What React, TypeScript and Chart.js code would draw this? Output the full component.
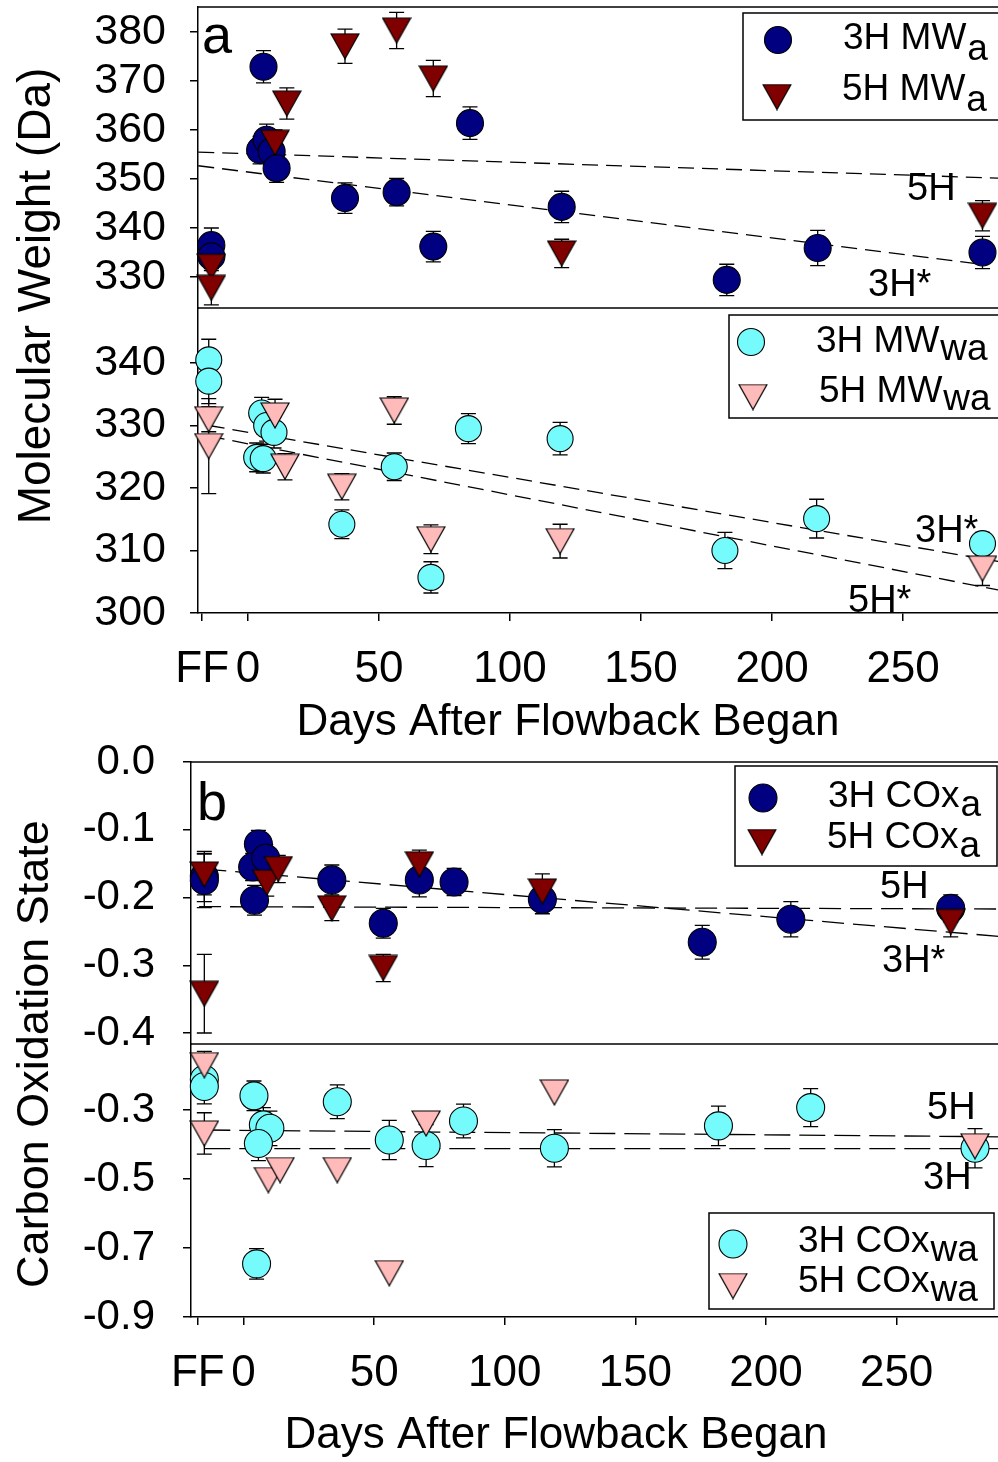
import React, { useEffect, useRef } from 'react';
import { Chart, registerables } from 'chart.js';

Chart.register(...registerables);

const FONT = "'Liberation Sans', Arial, Helvetica, sans-serif";

// ---------------- shared x axis ----------------
const X_TICK_VALUES = [-17.5, 0, 50, 100, 150, 200, 250];
const X_TICK_LABELS = ['FF', '0', '50', '100', '150', '200', '250'];

// ---------------- figure a, upper panel (MWa) ----------------
const MWA_TICKS = [330, 340, 350, 360, 370, 380];
const MWA_TICK_LABELS = ['330', '340', '350', '360', '370', '380'];
const MWA_3H_DAYS = [-14, -14, 4.6, 7.1, 9.0, 10.9, 5.9, 37.0, 56.7, 70.7, 84.7, 119.7, 182.7, 217.4, 280.3];
const MWA_3H_VALUES = [336.5, 334.2, 355.9, 358.0, 355.6, 352.2, 372.9, 346.1, 347.3, 336.2, 361.4, 344.3, 329.4, 335.9, 335.0];
const MWA_3H_ERRORS = [3.5, 2.5, 2.8, 3.2, 2.8, 2.9, 3.3, 3.1, 2.8, 3.1, 3.3, 3.2, 3.2, 3.6, 3.3];
const MWA_5H_DAYS = [-14, -14, 10.3, 14.8, 37.0, 56.7, 70.7, 119.7, 280.3];
const MWA_5H_VALUES = [332.1, 327.8, 357.4, 365.4, 377.1, 380.3, 370.5, 334.8, 342.5];
const MWA_5H_ERRORS = [2.0, 3.5, 2.6, 3.2, 3.5, 3.7, 3.7, 2.9, 3.1];
const MWA_5H_FIT_X = [-19, 291];
const MWA_5H_FIT_Y = [355.5, 350.1];
const MWA_3H_FIT_X = [-19, 280];
const MWA_3H_FIT_Y = [352.7, 332.6];

// ---------------- figure a, lower panel (MWwa) ----------------
const MWWA_TICKS = [300, 310, 320, 330, 340];
const MWWA_TICK_LABELS = ['300', '310', '320', '330', '340'];
const MWWA_3H_DAYS = [-15, -15, 5.2, 7.1, 9.9, 3.3, 5.8, 35.8, 55.8, 69.8, 84.1, 119.1, 182.0, 217.0, 280.3];
const MWWA_3H_VALUES = [340.5, 337.1, 332.0, 330.0, 328.9, 324.9, 324.7, 314.2, 323.4, 305.7, 329.5, 327.9, 310.0, 315.1, 311.1];
const MWWA_3H_ERRORS = [3.3, 3.6, 2.5, 2.5, 2.5, 2.3, 2.3, 2.3, 2.2, 2.5, 2.4, 2.6, 2.9, 3.1, 1.8];
const MWWA_5H_DAYS = [-15, -15, 10.3, 14.1, 35.8, 55.8, 69.8, 119.1, 280.3];
const MWWA_5H_VALUES = [331.0, 326.7, 331.6, 323.4, 320.2, 332.4, 311.8, 311.5, 307.1];
const MWWA_5H_ERRORS = [2.0, 7.6, 2.6, 2.1, 2.1, 2.2, 2.3, 2.7, 2.7];
const MWWA_3H_FIT_X = [-15, 291];
const MWWA_3H_FIT_Y = [330.0, 307.9];
const MWWA_5H_FIT_X = [-15, 291];
const MWWA_5H_FIT_Y = [328.3, 303.3];

// ---------------- figure b, upper panel (COxa) ----------------
const COXA_TICKS = [0, -0.1, -0.2, -0.3, -0.4];
const COXA_TICK_LABELS = ['0.0', '-0.1', '-0.2', '-0.3', '-0.4'];
const COXA_3H_DAYS = [-15, -15, 5.7, 3.5, 8.5, 4.2, 33.8, 53.5, 67.3, 80.6, 114.4, 175.6, 209.5, 270.7];
const COXA_3H_VALUES = [-0.169, -0.175, -0.121, -0.155, -0.142, -0.204, -0.174, -0.238, -0.174, -0.177, -0.203, -0.266, -0.232, -0.216];
const COXA_3H_ERRORS = [0.037, 0.04, 0.02, 0.02, 0.02, 0.022, 0.022, 0.022, 0.025, 0.02, 0.021, 0.025, 0.026, 0.02];
const COXA_5H_DAYS = [-15, -15, 8.9, 13.3, 33.8, 53.5, 67.3, 114.4, 270.7];
const COXA_5H_VALUES = [-0.166, -0.342, -0.178, -0.158, -0.216, -0.304, -0.151, -0.191, -0.236];
const COXA_5H_ERRORS = [0.03, 0.058, 0.02, 0.02, 0.018, 0.02, 0.021, 0.026, 0.022];
const COXA_3H_FIT_X = [-15, 294];
const COXA_3H_FIT_Y = [-0.158, -0.259];
const COXA_5H_FIT_X = [-17, 294];
const COXA_5H_FIT_Y = [-0.2135, -0.217];

// ---------------- figure b, lower panel (COxwa) ----------------
const COXWA_TICKS = [-0.3, -0.5, -0.7, -0.9];
const COXWA_TICK_LABELS = ['-0.3', '-0.5', '-0.7', '-0.9'];
const COXWA_3H_DAYS = [-15, -15, 4.0, 7.6, 10.1, 5.7, 5.0, 35.9, 55.8, 69.9, 84.2, 119.0, 181.8, 217.1, 280.0];
const COXWA_3H_VALUES = [-0.211, -0.232, -0.259, -0.343, -0.353, -0.397, -0.746, -0.276, -0.387, -0.403, -0.332, -0.411, -0.346, -0.293, -0.411];
const COXWA_3H_ERRORS = [0.05, 0.05, 0.043, 0.05, 0.05, 0.05, 0.044, 0.049, 0.057, 0.061, 0.049, 0.054, 0.057, 0.055, 0.057];
const COXWA_5H_DAYS = [-15, -15, 9.5, 14.0, 35.9, 55.8, 69.9, 119.0, 280.0];
const COXWA_5H_VALUES = [-0.170, -0.368, -0.503, -0.474, -0.474, -0.773, -0.339, -0.249, -0.405];
const COXWA_5H_ERRORS = [0.04, 0.06, 0, 0, 0, 0, 0, 0, 0];
const COXWA_5H_FIT_X = [-15, 294];
const COXWA_5H_FIT_Y = [-0.358, -0.378];
const COXWA_3H_FIT_X = [-15, 294];
const COXWA_3H_FIT_Y = [-0.412, -0.412];

// ---------------- styles / layout ----------------
const NAVY = '#000080';
const MAROON = '#800000';
const CYAN = '#75FBFB';
const PINK = '#FFBABA';
const TRI_W = 28;
const TRI_H = 25;
const CANVAS_W = 1010;
const A_TOP = 0;
const A_H = 750;
const B_TOP = 725;
const B_H = 737;

const triCache: Record<string, HTMLCanvasElement> = {};
function triangle(fill: string): HTMLCanvasElement {
  if (triCache[fill]) return triCache[fill];
  const c = document.createElement('canvas');
  c.width = TRI_W + 2;
  c.height = TRI_H + 2;
  const g = c.getContext('2d')!;
  g.beginPath();
  g.moveTo(1, 1);
  g.lineTo(TRI_W + 1, 1);
  g.lineTo(TRI_W / 2 + 1, TRI_H + 1);
  g.closePath();
  g.fillStyle = fill;
  g.fill();
  g.strokeStyle = '#000';
  g.lineWidth = 1.2;
  g.stroke();
  triCache[fill] = c;
  return c;
}

function pts(xs: number[], ys: number[]) {
  return xs.map((x, i) => ({ x, y: ys[i] }));
}

function markerDataset(label: string, xs: number[], ys: number[], errs: number[], kind: string, color: string, yAxisID: string, order: number, r: number) {
  return {
    type: 'scatter',
    label,
    data: pts(xs, ys),
    errorBars: errs,
    pointStyle: kind === 'circle' ? 'circle' : triangle(color),
    pointRadius: r,
    backgroundColor: color,
    borderColor: '#000',
    borderWidth: 1.1,
    xAxisID: 'x',
    yAxisID,
    order,
    clip: false,
  };
}

function fitDataset(xs: number[], ys: number[], yAxisID: string, dash: number[]) {
  return {
    type: 'line',
    label: 'fit',
    data: pts(xs, ys),
    borderColor: '#000',
    borderWidth: 1.3,
    borderDash: dash,
    pointRadius: 0,
    fill: false,
    tension: 0,
    xAxisID: 'x',
    yAxisID,
    order: 5,
  };
}

function xScale(min: number, max: number, height: number) {
  return {
    type: 'linear',
    position: 'bottom',
    min,
    max,
    bounds: 'data',
    afterBuildTicks: (s: any) => {
      s.ticks = X_TICK_VALUES.map((v) => ({ value: v }));
    },
    afterFit: (s: any) => {
      s.height = height;
      s.paddingLeft = 0;
      s.paddingRight = 0;
    },
    ticks: {
      callback: (_v: any, i: number) => X_TICK_LABELS[i],
      font: { family: FONT, size: 44 },
      color: '#000',
      padding: 22,
      autoSkip: false,
      maxRotation: 0,
      minRotation: 0,
    },
    grid: { drawOnChartArea: false, drawTicks: true, tickLength: 8, color: '#000', lineWidth: 1.5 },
    border: { display: true, color: '#000', width: 1.5 },
  };
}

function yScale(min: number, max: number, ticks: number[], labels: string[], weight: number, width: number, pad: number, size: number) {
  return {
    type: 'linear',
    position: 'left',
    stack: 'panels',
    stackWeight: weight,
    min,
    max,
    bounds: 'data',
    afterBuildTicks: (s: any) => {
      s.ticks = ticks.map((v) => ({ value: v }));
    },
    afterFit: (s: any) => {
      s.width = width;
      s.paddingTop = 0;
      s.paddingBottom = 0;
    },
    ticks: {
      callback: (_v: any, i: number) => labels[i],
      font: { family: FONT, size },
      color: '#000',
      padding: pad,
      autoSkip: false,
    },
    grid: { drawOnChartArea: false, drawTicks: true, tickLength: 8, color: '#000', lineWidth: 1.5 },
    border: { display: true, color: '#000', width: 1.5 },
  };
}

const errorBarPlugin = {
  id: 'errorBars',
  beforeDatasetsDraw(chart: any) {
    const ctx = chart.ctx;
    ctx.save();
    ctx.strokeStyle = '#000';
    ctx.lineWidth = 1.3;
    chart.data.datasets.forEach((ds: any, i: number) => {
      const errs = ds.errorBars;
      if (!errs) return;
      const meta = chart.getDatasetMeta(i);
      const ys = chart.scales[meta.yAxisID];
      ds.data.forEach((p: any, j: number) => {
        const e = errs[j];
        if (!e) return;
        const x = meta.data[j].x;
        const y1 = ys.getPixelForValue(p.y + e);
        const y2 = ys.getPixelForValue(p.y - e);
        ctx.beginPath();
        ctx.moveTo(x, y1);
        ctx.lineTo(x, y2);
        ctx.moveTo(x - 7.5, y1);
        ctx.lineTo(x + 7.5, y1);
        ctx.moveTo(x - 7.5, y2);
        ctx.lineTo(x + 7.5, y2);
        ctx.stroke();
      });
    });
    ctx.restore();
  },
};

type TextSpec = { text: string; x: number; y: number; size: number; align?: string; rotate?: boolean };
type LegendItem = { kind: string; color: string; r: number; mx: number; my: number; main: string; sub: string; tx: number; ty: number };
type LegendSpec = { x: number; y: number; w: number; h: number; subDy: number; size: number; items: LegendItem[] };

function drawMarker(ctx: CanvasRenderingContext2D, kind: string, color: string, x: number, y: number, r: number) {
  if (kind === 'circle') {
    ctx.beginPath();
    ctx.arc(x, y, r, 0, Math.PI * 2);
    ctx.fillStyle = color;
    ctx.fill();
    ctx.strokeStyle = '#000';
    ctx.lineWidth = 1.1;
    ctx.stroke();
  } else {
    const img = triangle(color);
    ctx.drawImage(img, x - img.width / 2, y - img.height / 2);
  }
}

// texts and legends are given in page coordinates; dy converts them to the canvas
function makeDecor(texts: TextSpec[], legends: LegendSpec[], dy: number) {
  return {
    id: 'decor',
    beforeDatasetsDraw(chart: any) {
      const { ctx, chartArea } = chart;
      ctx.save();
      ctx.strokeStyle = '#000';
      ctx.lineWidth = 1.5;
      Object.values(chart.scales).forEach((s: any) => {
        if (s.axis === 'y') {
          ctx.beginPath();
          ctx.moveTo(chartArea.left, s.top);
          ctx.lineTo(chartArea.right, s.top);
          ctx.stroke();
        }
      });
      ctx.restore();
    },
    afterDraw(chart: any) {
      const ctx: CanvasRenderingContext2D = chart.ctx;
      ctx.save();
      ctx.translate(0, -dy);
      for (const L of legends) {
        ctx.fillStyle = '#fff';
        ctx.fillRect(L.x, L.y, L.w, L.h);
        ctx.strokeStyle = '#000';
        ctx.lineWidth = 1.5;
        ctx.strokeRect(L.x, L.y, L.w, L.h);
        for (const it of L.items) {
          drawMarker(ctx, it.kind, it.color, it.mx, it.my, it.r);
          ctx.font = `${L.size}px ${FONT}`;
          ctx.fillStyle = '#000';
          ctx.textAlign = 'left';
          ctx.textBaseline = 'alphabetic';
          ctx.fillText(it.main, it.tx, it.ty);
          const w = ctx.measureText(it.main).width;
          ctx.fillText(it.sub, it.tx + w + 1, it.ty + L.subDy);
        }
      }
      for (const t of texts) {
        ctx.save();
        ctx.font = `${t.size}px ${FONT}`;
        ctx.fillStyle = '#000';
        ctx.textAlign = (t.align || 'left') as CanvasTextAlign;
        ctx.textBaseline = 'alphabetic';
        if (t.rotate) {
          ctx.translate(t.x, t.y);
          ctx.rotate(-Math.PI / 2);
          ctx.fillText(t.text, 0, 0);
        } else {
          ctx.fillText(t.text, t.x, t.y);
        }
        ctx.restore();
      }
      ctx.restore();
    },
  };
}

function baseOptions(padTop: number, scales: any) {
  return {
    responsive: false,
    animation: false,
    events: [],
    layout: { autoPadding: false, padding: { left: 0, top: padTop, right: 0, bottom: 0 } },
    plugins: { legend: { display: false }, tooltip: { enabled: false }, title: { display: false } },
    scales,
  };
}

function configA(): any {
  const dashA = [16, 8];
  return {
    type: 'scatter',
    data: {
      datasets: [
        markerDataset('5H MWa', MWA_5H_DAYS, MWA_5H_VALUES, MWA_5H_ERRORS, 'triangle', MAROON, 'yTop', 1, 14),
        markerDataset('3H MWa', MWA_3H_DAYS, MWA_3H_VALUES, MWA_3H_ERRORS, 'circle', NAVY, 'yTop', 2, 13.5),
        fitDataset(MWA_5H_FIT_X, MWA_5H_FIT_Y, 'yTop', dashA),
        fitDataset(MWA_3H_FIT_X, MWA_3H_FIT_Y, 'yTop', dashA),
        markerDataset('5H MWwa', MWWA_5H_DAYS, MWWA_5H_VALUES, MWWA_5H_ERRORS, 'triangle', PINK, 'yBot', 1, 14),
        markerDataset('3H MWwa', MWWA_3H_DAYS, MWWA_3H_VALUES, MWWA_3H_ERRORS, 'circle', CYAN, 'yBot', 2, 13),
        fitDataset(MWWA_3H_FIT_X, MWWA_3H_FIT_Y, 'yBot', dashA),
        fitDataset(MWWA_5H_FIT_X, MWWA_5H_FIT_Y, 'yBot', dashA),
      ],
    },
    options: baseOptions(7 - A_TOP, {
      x: xScale(-19.1, 290.8, A_TOP + A_H - 613),
      yBot: yScale(300, 348.8, MWWA_TICKS, MWWA_TICK_LABELS, 305, 198, 24, 43),
      yTop: yScale(323.67, 385.1, MWA_TICKS, MWA_TICK_LABELS, 301, 198, 24, 43),
    }),
    plugins: [
      errorBarPlugin,
      makeDecor(
        [
          { text: 'a', x: 202, y: 53, size: 54 },
          { text: '5H', x: 907, y: 200, size: 38 },
          { text: '3H*', x: 868, y: 296, size: 38 },
          { text: '3H*', x: 915, y: 542, size: 38 },
          { text: '5H*', x: 848, y: 612, size: 38 },
          { text: 'Days After Flowback Began', x: 568, y: 735, size: 44, align: 'center' },
          { text: 'Molecular Weight (Da)', x: 50, y: 296, size: 46, align: 'center', rotate: true },
        ],
        [
          {
            x: 743, y: 13, w: 256, h: 107, subDy: 11, size: 37,
            items: [
              { kind: 'circle', color: NAVY, r: 13.5, mx: 778, my: 40, main: '3H MW', sub: 'a', tx: 843, ty: 49 },
              { kind: 'triangle', color: MAROON, r: 14, mx: 777, my: 97, main: '5H MW', sub: 'a', tx: 842, ty: 100 },
            ],
          },
          {
            x: 729, y: 315, w: 270, h: 103, subDy: 8, size: 37,
            items: [
              { kind: 'circle', color: CYAN, r: 13.5, mx: 751, my: 342, main: '3H MW', sub: 'wa', tx: 816, ty: 352 },
              { kind: 'triangle', color: PINK, r: 14, mx: 753, my: 397, main: '5H MW', sub: 'wa', tx: 819, ty: 402 },
            ],
          },
        ],
        A_TOP
      ),
    ],
  };
}

function configB(): any {
  const dashTop = [22, 9];
  const dashBot = [26, 9];
  return {
    type: 'scatter',
    data: {
      datasets: [
        markerDataset('5H COxa', COXA_5H_DAYS, COXA_5H_VALUES, COXA_5H_ERRORS, 'triangle', MAROON, 'yTop', 1, 14),
        markerDataset('3H COxa', COXA_3H_DAYS, COXA_3H_VALUES, COXA_3H_ERRORS, 'circle', NAVY, 'yTop', 2, 14),
        fitDataset(COXA_3H_FIT_X, COXA_3H_FIT_Y, 'yTop', dashTop),
        fitDataset(COXA_5H_FIT_X, COXA_5H_FIT_Y, 'yTop', dashTop),
        markerDataset('5H COxwa', COXWA_5H_DAYS, COXWA_5H_VALUES, COXWA_5H_ERRORS, 'triangle', PINK, 'yBot', 1, 14),
        markerDataset('3H COxwa', COXWA_3H_DAYS, COXWA_3H_VALUES, COXWA_3H_ERRORS, 'circle', CYAN, 'yBot', 2, 14),
        fitDataset(COXWA_5H_FIT_X, COXWA_5H_FIT_Y, 'yBot', dashBot),
        fitDataset(COXWA_3H_FIT_X, COXWA_3H_FIT_Y, 'yBot', dashBot),
      ],
    },
    options: baseOptions(762 - B_TOP, {
      x: xScale(-20.1, 293.4, B_TOP + B_H - 1317),
      yBot: yScale(-0.9, -0.1087, COXWA_TICKS, COXWA_TICK_LABELS, 273, 191, 28, 42),
      yTop: yScale(-0.4162, 0, COXA_TICKS, COXA_TICK_LABELS, 282, 191, 28, 42),
    }),
    plugins: [
      errorBarPlugin,
      makeDecor(
        [
          { text: 'b', x: 197, y: 820, size: 54 },
          { text: '5H', x: 880, y: 898, size: 38 },
          { text: '3H*', x: 882, y: 972, size: 38 },
          { text: '5H', x: 927, y: 1119, size: 38 },
          { text: '3H', x: 923, y: 1189, size: 38 },
          { text: 'Days After Flowback Began', x: 556, y: 1448, size: 44, align: 'center' },
          { text: 'Carbon Oxidation State', x: 48, y: 1054, size: 45, align: 'center', rotate: true },
        ],
        [
          {
            x: 735, y: 766, w: 262, h: 100, subDy: 9, size: 37,
            items: [
              { kind: 'circle', color: NAVY, r: 14, mx: 763, my: 798, main: '3H COx', sub: 'a', tx: 828, ty: 807 },
              { kind: 'triangle', color: MAROON, r: 14, mx: 762, my: 842, main: '5H COx', sub: 'a', tx: 827, ty: 848 },
            ],
          },
          {
            x: 709, y: 1213, w: 285, h: 96, subDy: 9, size: 37,
            items: [
              { kind: 'circle', color: CYAN, r: 14, mx: 733, my: 1244, main: '3H COx', sub: 'wa', tx: 798, ty: 1252 },
              { kind: 'triangle', color: PINK, r: 14, mx: 733, my: 1286, main: '5H COx', sub: 'wa', tx: 798, ty: 1292 },
            ],
          },
        ],
        B_TOP
      ),
    ],
  };
}

export default function App() {
  const refA = useRef<HTMLCanvasElement>(null);
  const refB = useRef<HTMLCanvasElement>(null);

  useEffect(() => {
    const a = new Chart(refA.current as HTMLCanvasElement, configA());
    const b = new Chart(refB.current as HTMLCanvasElement, configB());
    return () => {
      a.destroy();
      b.destroy();
    };
  }, []);

  return (
    <div style={{ position: 'absolute', left: 0, top: 0, width: 998, height: 1462, overflow: 'hidden', background: '#fff' }}>
      <canvas ref={refA} width={CANVAS_W} height={A_H} style={{ position: 'absolute', left: 0, top: A_TOP, width: CANVAS_W, height: A_H }} />
      <canvas ref={refB} width={CANVAS_W} height={B_H} style={{ position: 'absolute', left: 0, top: B_TOP, width: CANVAS_W, height: B_H }} />
    </div>
  );
}
